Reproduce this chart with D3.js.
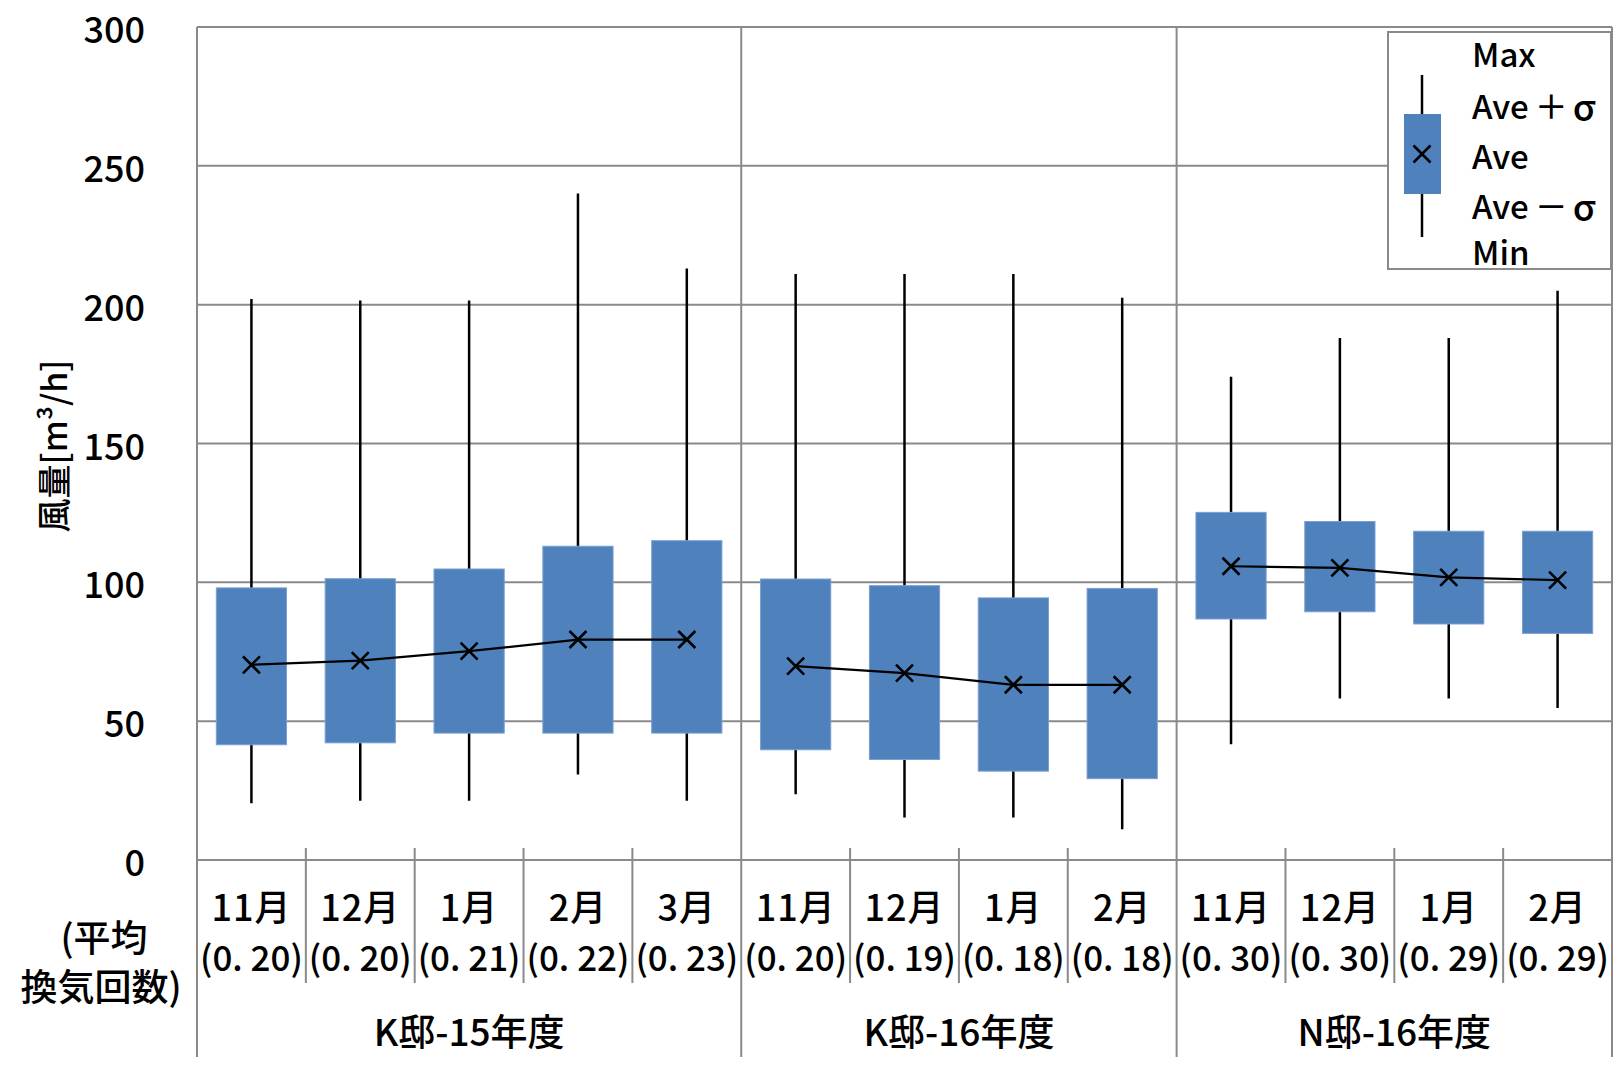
<!DOCTYPE html>
<html><head><meta charset="utf-8">
<script src="https://cdn.jsdelivr.net/npm/d3@7"></script>
<style>
html,body{margin:0;padding:0;background:#fff;}
svg text{font-family:"Noto Sans CJK JP","Noto Sans",sans-serif;fill:#000;font-weight:500;}
</style></head>
<body><svg id="c" width="1623" height="1066"></svg>
<script>
const categories = ["11月","12月","1月","2月","3月","11月","12月","1月","2月","11月","12月","1月","2月"];
const rates = ["(0. 20)","(0. 20)","(0. 21)","(0. 22)","(0. 23)","(0. 20)","(0. 19)","(0. 18)","(0. 18)","(0. 30)","(0. 30)","(0. 29)","(0. 29)"];
const groups = ["K邸-15年度","K邸-16年度","N邸-16年度"];
const groupSizes = [5,4,4];
const maxV = [202, 201.5, 201.5, 240, 213, 211, 211, 211, 202.5, 174, 188, 188, 205];
const plusSigma = [98, 101.3, 104.8, 113, 115, 101.2, 98.8, 94.4, 97.8, 125.2, 121.9, 118.4, 118.4];
const ave = [70.3, 71.8, 75.2, 79.4, 79.4, 69.8, 67.3, 63.1, 63.1, 105.8, 105.2, 101.8, 100.8];
const minusSigma = [41.5, 42.2, 45.7, 45.7, 45.7, 39.7, 36.2, 32.0, 29.3, 86.8, 89.4, 85.0, 81.6];
const minV = [20.4, 21.3, 21.3, 30.8, 21.3, 23.7, 15.3, 15.3, 11.1, 41.7, 58.2, 58.2, 54.7];
const yTicks = [0, 50, 100, 150, 200, 250, 300];
const legendLabels = ["Max","Ave＋σ","Ave","Ave－σ","Min"];
const yTitle = "風量[m³/h]";
const leftLabel = ["(平均","換気回数)"];

const svg = d3.select("#c");
const L = 197, R = 1612, T = 27, B = 860, BOT = 1057;
const grey = "#8a8a8a", blue = "#4F81BD";

const idx = d3.range(categories.length);
const x = d3.scaleBand().domain(idx).range([L, R]).paddingInner(0).paddingOuter(0);
const y = d3.scaleLinear().domain([0, 300]).range([B, T]);
const bw = x.bandwidth();
const boxW = bw * 0.645;

let starts = [0];
groupSizes.forEach((s, i) => starts.push(starts[i] + s));

svg.append("g").selectAll("line").data(yTicks).join("line")
  .attr("x1", L).attr("x2", R).attr("y1", d => y(d)).attr("y2", d => y(d))
  .attr("stroke", grey).attr("stroke-width", 2);

svg.append("line").attr("x1", L).attr("x2", L).attr("y1", T).attr("y2", BOT).attr("stroke", grey).attr("stroke-width", 2);
svg.append("line").attr("x1", R).attr("x2", R).attr("y1", T).attr("y2", BOT).attr("stroke", grey).attr("stroke-width", 2);
svg.append("g").selectAll("line").data(starts.slice(1, -1)).join("line")
  .attr("x1", d => x(d)).attr("x2", d => x(d)).attr("y1", T).attr("y2", BOT)
  .attr("stroke", grey).attr("stroke-width", 2);
const inner = idx.slice(1).filter(i => !starts.includes(i));
svg.append("g").selectAll("line").data(inner).join("line")
  .attr("x1", d => x(d)).attr("x2", d => x(d)).attr("y1", B - 12).attr("y2", 983)
  .attr("stroke", grey).attr("stroke-width", 2);

svg.append("g").selectAll("text").data(yTicks).join("text")
  .attr("x", 145).attr("y", d => y(d)).attr("text-anchor", "end").attr("dominant-baseline", "central")
  .attr("font-size", 36).text(d => d);

svg.append("text").attr("transform", "translate(52,446) rotate(-90)")
  .attr("text-anchor", "middle").attr("dominant-baseline", "central").attr("font-size", 34).text(yTitle);

const cx = i => x(i) + bw / 2;
svg.append("g").selectAll("line").data(idx).join("line")
  .attr("x1", cx).attr("x2", cx).attr("y1", i => y(maxV[i])).attr("y2", i => y(minV[i]))
  .attr("stroke", "#000").attr("stroke-width", 2.5);

svg.append("g").selectAll("rect").data(idx).join("rect")
  .attr("x", i => cx(i) - boxW / 2).attr("width", boxW)
  .attr("y", i => y(plusSigma[i])).attr("height", i => y(minusSigma[i]) - y(plusSigma[i]))
  .attr("fill", blue).attr("stroke", "#7a9fd2").attr("stroke-width", 1);

const line = d3.line().x(i => cx(i)).y(i => y(ave[i]));
groupSizes.forEach((s, g) => {
  svg.append("path").attr("d", line(d3.range(starts[g], starts[g] + s)))
    .attr("fill", "none").attr("stroke", "#000").attr("stroke-width", 2.2);
});

const m = 8.5;
svg.append("g").selectAll("path").data(idx).join("path")
  .attr("d", i => `M${cx(i)-m},${y(ave[i])-m}L${cx(i)+m},${y(ave[i])+m}M${cx(i)-m},${y(ave[i])+m}L${cx(i)+m},${y(ave[i])-m}`)
  .attr("stroke", "#000").attr("stroke-width", 2.6).attr("fill", "none");

svg.append("g").selectAll("text").data(idx).join("text")
  .attr("x", cx).attr("y", 905).attr("text-anchor", "middle").attr("dominant-baseline", "central")
  .attr("font-size", 36).attr("letter-spacing", 1).text(i => categories[i]);
svg.append("g").selectAll("text").data(idx).join("text")
  .attr("x", cx).attr("y", 955).attr("text-anchor", "middle").attr("dominant-baseline", "central")
  .attr("font-size", 35).attr("textLength", bw - 6).attr("lengthAdjust", "spacingAndGlyphs")
  .text(i => rates[i]);

svg.append("g").selectAll("text").data(groups).join("text")
  .attr("x", (d, g) => (x(starts[g]) + (starts[g + 1] < categories.length ? x(starts[g + 1]) : R)) / 2)
  .attr("y", 1030).attr("text-anchor", "middle").attr("dominant-baseline", "central")
  .attr("font-size", 37).text(d => d);

svg.append("text").attr("x", 104).attr("y", 936).attr("text-anchor", "middle").attr("dominant-baseline", "central")
  .attr("font-size", 37).text(leftLabel[0]);
svg.append("text").attr("x", 101).attr("y", 985).attr("text-anchor", "middle").attr("dominant-baseline", "central")
  .attr("font-size", 37).text(leftLabel[1]);

// legend
const lg = svg.append("g");
lg.append("rect").attr("x", 1388).attr("y", 32).attr("width", 223).attr("height", 237)
  .attr("fill", "#fff").attr("stroke", grey).attr("stroke-width", 2);
lg.append("line").attr("x1", 1422).attr("x2", 1422).attr("y1", 75).attr("y2", 237).attr("stroke", "#000").attr("stroke-width", 2.5);
lg.append("rect").attr("x", 1404).attr("y", 114).attr("width", 37).attr("height", 80).attr("fill", blue);
lg.append("path").attr("d", `M${1422-m},${154-m}L${1422+m},${154+m}M${1422-m},${154+m}L${1422+m},${154-m}`)
  .attr("stroke", "#000").attr("stroke-width", 2.6);
const ly = [53, 105, 155, 205, 251];
lg.selectAll("text.l").data(legendLabels).join("text").attr("class", "l")
  .attr("x", 1472).attr("y", (d, i) => ly[i]).attr("dominant-baseline", "central")
  .attr("font-size", 33)
  .each(function(d) {
    const t = d3.select(this);
    if (d.length > 3 && d.startsWith("Ave")) {
      t.append("tspan").text(d.slice(0, 3));
      t.append("tspan").attr("dx", 6).text(d.slice(3, 4));
      t.append("tspan").attr("dx", 5).attr("font-size", 37).text(d.slice(4));
    } else {
      t.text(d);
    }
  });
</script></body></html>
